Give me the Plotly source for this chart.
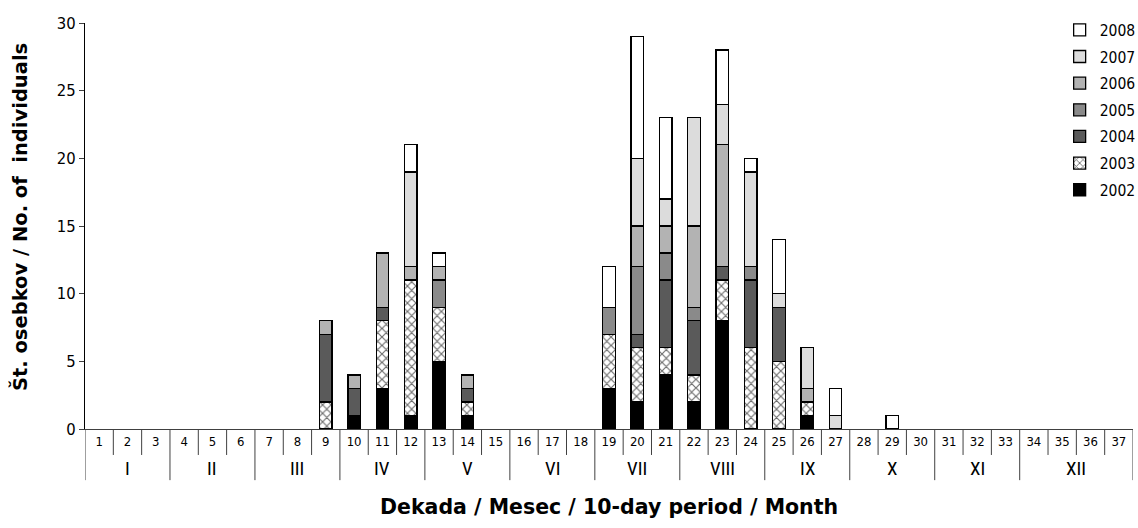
import plotly.graph_objects as go

periods = list(range(1, 38))
months = ["I", "II", "III", "IV", "V", "VI", "VII", "VIII", "IX", "X", "XI", "XII"]
month_len = [3, 3, 3, 3, 3, 3, 3, 3, 3, 3, 3, 4]
years = ["2002", "2003", "2004", "2005", "2006", "2007", "2008"]

def series(d):
    return [d.get(p) for p in periods]

y2002 = series({10: 1, 11: 3, 12: 1, 13: 5, 14: 1, 19: 3, 20: 2, 21: 4, 22: 2, 23: 8, 26: 1})
y2003 = series({9: 2, 11: 5, 12: 10, 13: 4, 14: 1, 19: 4, 20: 4, 21: 2, 22: 2, 23: 3, 24: 6, 25: 5, 26: 1})
y2004 = series({9: 5, 10: 2, 11: 1, 14: 1, 20: 1, 21: 5, 22: 4, 23: 1, 24: 5, 25: 4})
y2005 = series({13: 2, 19: 2, 20: 5, 21: 2, 22: 1, 24: 1})
y2006 = series({9: 1, 10: 1, 11: 4, 12: 1, 13: 1, 14: 1, 20: 3, 21: 2, 22: 6, 23: 9, 26: 1})
y2007 = series({12: 7, 20: 5, 21: 2, 22: 8, 23: 3, 24: 7, 25: 1, 26: 3, 27: 1})
y2008 = series({12: 2, 13: 1, 19: 3, 20: 9, 21: 6, 23: 4, 24: 1, 25: 4, 27: 2, 29: 1})

values = [y2002, y2003, y2004, y2005, y2006, y2007, y2008]
colors = ["#000000", "#ffffff", "#5a5a5a", "#8a8a8a", "#b3b3b3", "#dcdcdc", "#ffffff"]

TICKF = "DejaVu Sans Condensed, sans-serif"
ROMANF = "Roboto Condensed, sans-serif"
TITLEF = "DejaVu Sans, sans-serif"
AX = "#404040"

fig = go.Figure()
for i, (yr, vals, col) in enumerate(zip(years, values, colors)):
    marker = dict(color=col, line=dict(color="#000000", width=1.3))
    if yr == "2003":
        marker["pattern"] = dict(shape="x", fgcolor="#6e6e6e", bgcolor="#ffffff",
                                 size=6, solidity=0.35, fillmode="replace")
    fig.add_trace(go.Bar(x=periods, y=vals, name=yr, marker=marker, legendgroup=yr,
                         legendrank=len(years) - i))

shapes = []
b = 0.5
bounds = [b]
for n in month_len:
    b += n
    bounds.append(b)
for p in periods[:-1]:
    xb = p + 0.5
    if xb not in bounds:
        shapes.append(dict(type="line", xref="x", yref="paper", x0=xb, x1=xb,
                           y0=0, y1=-0.064, line=dict(color=AX, width=1)))
for xb in bounds:
    shapes.append(dict(type="line", xref="x", yref="paper", x0=xb, x1=xb,
                       y0=0, y1=-0.126, line=dict(color=AX, width=1)))

annotations = []
for m, lo, hi in zip(months, bounds[:-1], bounds[1:]):
    annotations.append(dict(x=(lo + hi) / 2, y=-0.098, xref="x", yref="paper",
                            text=m, showarrow=False, yanchor="middle",
                            font=dict(family=ROMANF, size=19, color="#000000")))
annotations.append(dict(x=0.5, y=-0.192, xref="paper", yref="paper",
                        text="<b>Dekada / Mesec / 10-day period / Month</b>",
                        showarrow=False, yanchor="middle", xanchor="center",
                        font=dict(family=TITLEF, size=20.5, color="#000000")))
annotations.append(dict(x=-0.062, y=0.522, xref="paper", yref="paper",
                        text="<b>Št. osebkov / No. of  individuals</b>", textangle=-90,
                        showarrow=False, xanchor="center", yanchor="middle",
                        font=dict(family=TITLEF, size=19.5, color="#000000")))

fig.update_layout(
    width=1138, height=528,
    margin=dict(l=85, r=5, t=23, b=99, autoexpand=False),
    barmode="stack", bargap=0.56,
    plot_bgcolor="white", paper_bgcolor="white",
    font=dict(family=TICKF, color="#000000"),
    shapes=shapes, annotations=annotations,
    legend=dict(x=0.930, y=1.024, xanchor="left", yanchor="top",
                traceorder="grouped", tracegroupgap=3.5,
                font=dict(family=TICKF, size=15.5, color="#000000"),
                bgcolor="rgba(0,0,0,0)"),
    xaxis=dict(range=[0.5, 37.5], tickmode="array", tickvals=periods,
               ticktext=[str(p) for p in periods], ticks="", showgrid=False,
               showline=True, linecolor=AX, linewidth=1, zeroline=False,
               automargin=False, tickfont=dict(family=TICKF, size=13), tickangle=0),
    yaxis=dict(range=[0, 30], tickvals=[0, 5, 10, 15, 20, 25, 30], ticks="outside",
               ticklen=5, tickcolor=AX, showgrid=False, showline=True,
               linecolor="#000000", linewidth=1, zeroline=False, automargin=False,
               tickfont=dict(family=TICKF, size=16.5, color="#000000")),
)

fig.write_html("out.html", config={"displayModeBar": False},
               post_script="document.body.style.margin='0';")
